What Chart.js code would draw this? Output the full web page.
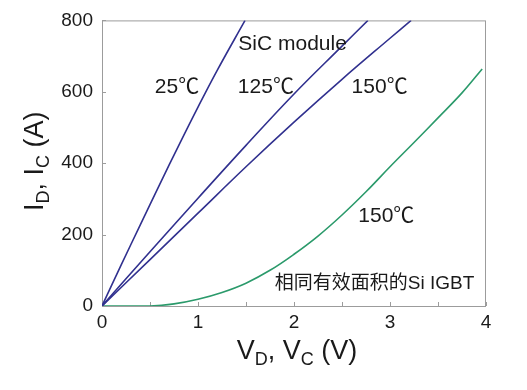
<!DOCTYPE html>
<html>
<head>
<meta charset="utf-8">
<script src="https://cdn.jsdelivr.net/npm/chart.js@4/dist/chart.umd.min.js"></script>
<style>
  body { margin: 0; background: #fff; }
  canvas { display: block; }
</style>
</head>
<body>
<canvas id="canvas" width="527" height="390"></canvas>
<script>
(function () {

    // SiC module, 25 / 125 / 150 C  (V_D in V, I_D in A)
    const sic25V = [0, 0.2, 0.4, 0.6, 0.8, 1.0, 1.2, 1.49];
    const sic25I = [0, 115, 228, 340, 450, 557, 660, 800];
    const sic125V = [0, 0.5, 1.0, 1.5, 2.0, 2.5, 2.77];
    const sic125I = [0, 152, 302, 450, 594, 728, 800];
    const sic150V = [0, 0.5, 1.0, 1.5, 2.0, 2.5, 3.0, 3.22];
    const sic150I = [0, 130, 260, 390, 515, 635, 750, 800];
    // Si IGBT, same active area, 150 C
    const igbtV = [0, 0.5, 0.75, 1.0, 1.25, 1.5, 1.75, 2.0, 2.25, 2.5, 2.75, 3.0, 3.25, 3.5, 3.75, 3.96];
    const igbtI = [0, 0, 6, 19, 38, 64, 100, 145, 196, 255, 320, 390, 458, 527, 597, 664];

    const xTicks = [0, 1, 2, 3, 4];
    const yTicks = [0, 200, 400, 600, 800];

    // text labels in the plot (data coordinates)
    const notes = [
        { text: 'SiC module', x: 1.42, y: 717, size: 21 },
        { text: '25\u2103', x: 0.55, y: 596, size: 21 },
        { text: '125\u2103', x: 1.415, y: 596, size: 21 },
        { text: '150\u2103', x: 2.60, y: 596, size: 21 },
        { text: '150\u2103', x: 2.67, y: 235, size: 21 },
        { text: '相同有效面积的Si IGBT', x: 1.80, y: 47, size: 19 }
    ];

    const FONT = "'Liberation Sans', Arial, 'Noto Sans CJK SC', sans-serif";
    const BLUE = '#31318f';
    const GREEN = '#2b9a6b';

    function pts(xs, ys) {
        return xs.map((v, i) => ({ x: v, y: ys[i] }));
    }

    function line(data, color) {
        return {
            data: data,
            borderColor: color,
            borderWidth: 1.6,
            pointRadius: 0,
            fill: false,
            tension: 0.4
        };
    }

    // draws a string made of normal / subscript pieces, centred at (cx, base)
    function subText(ctx, parts, cx, base, size, subSize) {
        let w = 0;
        parts.forEach(p => {
            ctx.font = (p.sub ? subSize : size) + 'px ' + FONT;
            p.w = ctx.measureText(p.t).width;
            w += p.w;
        });
        let x = cx - w / 2;
        ctx.textAlign = 'left';
        ctx.textBaseline = 'alphabetic';
        parts.forEach(p => {
            ctx.font = (p.sub ? subSize : size) + 'px ' + FONT;
            ctx.fillText(p.t, x, base + (p.sub ? 6 : 0));
            x += p.w;
        });
    }

    const decor = {
        id: 'decor',
        beforeDatasetsDraw(chart) {
            const { ctx, chartArea: a, scales: { x, y } } = chart;
            ctx.save();
            ctx.strokeStyle = '#9c9c9c';
            ctx.lineWidth = 1;
            ctx.strokeRect(a.left + 0.5, a.top + 0.5, a.width - 1, a.height);
            ctx.beginPath();
            for (let v = x.min; v <= x.max; v += 0.5) {
                const px = Math.round(x.getPixelForValue(v)) + 0.5;
                ctx.moveTo(px, a.bottom);
                ctx.lineTo(px, a.bottom - 4);
            }
            yTicks.forEach(v => {
                const py = Math.round(y.getPixelForValue(v)) + 0.5;
                ctx.moveTo(a.left, py);
                ctx.lineTo(a.left + 4, py);
            });
            ctx.stroke();
            ctx.restore();
        },
        afterDraw(chart) {
            const { ctx, chartArea: a, scales: { x, y } } = chart;
            ctx.save();
            ctx.fillStyle = '#1a1a1a';
            ctx.textAlign = 'left';
            ctx.textBaseline = 'alphabetic';
            notes.forEach(n => {
                ctx.font = n.size + 'px ' + FONT;
                ctx.fillText(n.text, x.getPixelForValue(n.x), y.getPixelForValue(n.y));
            });

            // x title
            subText(ctx, [
                { t: 'V' }, { t: 'D', sub: true }, { t: ', V' }, { t: 'C', sub: true }, { t: ' (V)' }
            ], (a.left + a.right) / 2 + 3, a.bottom + 53, 27, 18);

            // y title, rotated
            ctx.translate(a.left - 59, (a.top + a.bottom) / 2 - 2);
            ctx.rotate(-Math.PI / 2);
            subText(ctx, [
                { t: 'I' }, { t: 'D', sub: true }, { t: ', I' }, { t: 'C', sub: true }, { t: ' (A)' }
            ], 0, 0, 27, 18);
            ctx.restore();
        }
    };

    new Chart(document.getElementById('canvas').getContext('2d'), {
        type: 'line',
        data: {
            datasets: [
                line(pts(sic25V, sic25I), BLUE),
                line(pts(sic125V, sic125I), BLUE),
                line(pts(sic150V, sic150I), BLUE),
                line(pts(igbtV, igbtI), GREEN)
            ]
        },
        options: {
            responsive: false,
            animation: false,
            devicePixelRatio: 1,
            layout: { padding: { left: 0, top: 19, right: 41, bottom: 0 } },
            plugins: { legend: { display: false }, tooltip: { enabled: false } },
            scales: {
                x: {
                    type: 'linear',
                    min: 0,
                    max: 4,
                    grid: { display: false, drawTicks: false },
                    border: { display: false },
                    afterBuildTicks: s => { s.ticks = xTicks.map(v => ({ value: v })); },
                    afterFit: s => { s.height = 84; },
                    ticks: {
                        padding: 5,
                        color: '#1a1a1a',
                        font: { family: FONT, size: 19 }
                    }
                },
                y: {
                    min: 0,
                    max: 800,
                    grid: { display: false, drawTicks: false },
                    border: { display: false },
                    afterBuildTicks: s => { s.ticks = yTicks.map(v => ({ value: v })); },
                    afterFit: s => { s.width = 102; },
                    ticks: {
                        padding: 9,
                        color: '#1a1a1a',
                        font: { family: FONT, size: 19 }
                    }
                }
            }
        },
        plugins: [decor]
    });

}());
</script>
</body>
</html>
